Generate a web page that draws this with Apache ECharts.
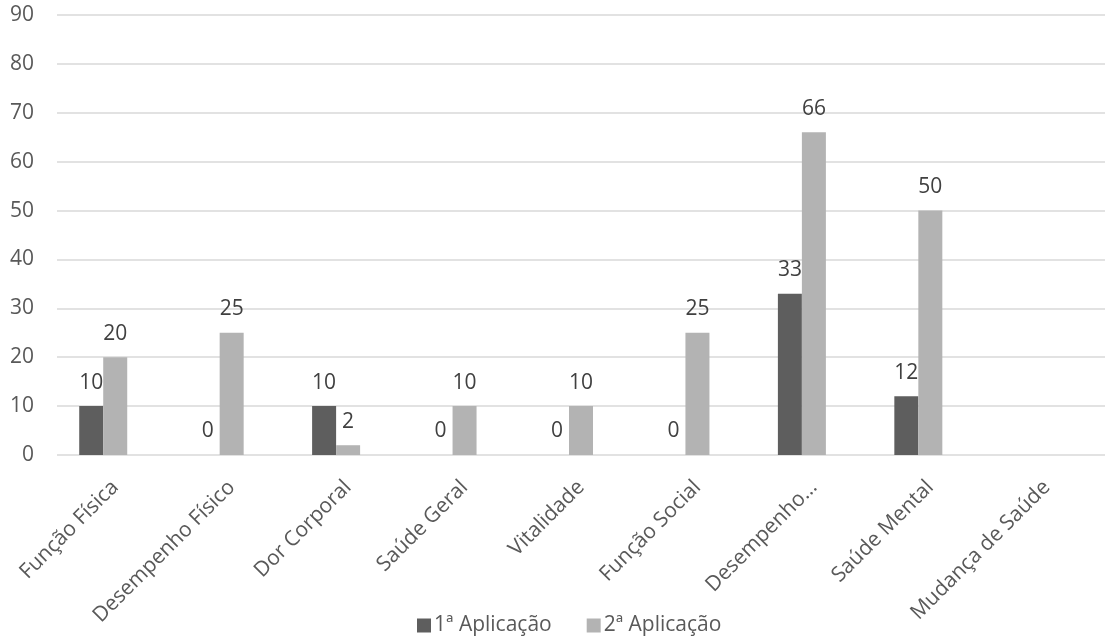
<!DOCTYPE html>
<html>
<head>
<meta charset="utf-8">
<script src="https://cdn.jsdelivr.net/npm/echarts@6/dist/echarts.min.js"></script>
<style>
  html, body { margin: 0; padding: 0; background: #ffffff; }
  #chart { width: 1105px; height: 637px; }
</style>
</head>
<body>
<div id="chart"></div>
<script>
// SF-36 domain scores, two applications
const categories = ['Função Física', 'Desempenho Físico', 'Dor Corporal', 'Saúde Geral', 'Vitalidade', 'Função Social', 'Desempenho Emocional', 'Saúde Mental', 'Mudança de Saúde'];
const primeiraAplicacao = [10, 0, 10, 0, 0, 0, 33, 12, null];
const segundaAplicacao = [20, 25, 2, 10, 10, 25, 66, 50, null];
// third slot of each category is left empty
const terceiraVazia = [null, null, null, null, null, null, null, null, null];
const seriesNames = ['1ª Aplicação', '2ª Aplicação'];

const FONT = '"Open Sans", "DejaVu Sans", sans-serif';
const AXIS_TEXT = '#595959';
const LABEL_TEXT = '#404040';

const chart = echarts.init(document.getElementById('chart'), null, { renderer: 'canvas' });

function shortName(name) {
  return name.length > 18 ? name.split(' ')[0] + '…' : name;
}

const dataLabel = {
  show: true,
  position: 'top',
  distance: 13,
  color: LABEL_TEXT,
  fontFamily: FONT,
  fontSize: 21
};

chart.setOption({
  animation: false,
  backgroundColor: '#ffffff',
  grid: { left: 57, top: 15, width: 1053, bottom: 182, containLabel: false },
  legend: {
    data: seriesNames,
    left: 412,
    bottom: -4,
    itemWidth: 14,
    itemHeight: 14,
    itemGap: 35,
    icon: 'rect',
    textStyle: { color: AXIS_TEXT, fontFamily: FONT, fontSize: 21, padding: [0, 0, 0, -2] }
  },
  xAxis: {
    type: 'category',
    data: categories,
    axisLine: { show: false },
    axisTick: { show: false },
    axisLabel: {
      interval: 0,
      rotate: 45,
      margin: 29,
      color: AXIS_TEXT,
      fontFamily: FONT,
      fontSize: 21,
      formatter: shortName
    }
  },
  yAxis: {
    type: 'value',
    min: 0,
    max: 90,
    interval: 10,
    axisLine: { show: false },
    axisTick: { show: false },
    axisLabel: { margin: 23, color: AXIS_TEXT, fontFamily: FONT, fontSize: 21 },
    splitLine: { lineStyle: { color: '#d9d9d9', width: 1.5 } }
  },
  series: [
    {
      name: seriesNames[0],
      type: 'bar',
      data: primeiraAplicacao,
      barWidth: 24,
      barGap: '0%',
      itemStyle: { color: '#5e5e5e' },
      label: dataLabel
    },
    {
      name: seriesNames[1],
      type: 'bar',
      data: segundaAplicacao,
      barWidth: 24,
      barGap: '0%',
      itemStyle: { color: '#b3b3b3' },
      label: dataLabel
    },
    {
      name: '',
      type: 'bar',
      data: terceiraVazia,
      barWidth: 24,
      barGap: '0%',
      itemStyle: { color: '#d0d0d0' }
    }
  ]
});
</script>
</body>
</html>
